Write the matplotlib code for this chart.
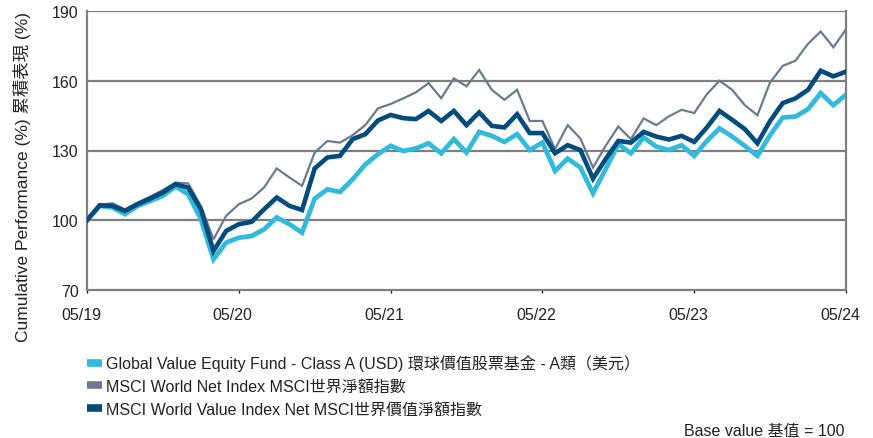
import matplotlib
matplotlib.use("Agg")
import matplotlib.pyplot as plt
import matplotlib.transforms as mtransforms
from matplotlib.lines import Line2D
import numpy as np

plt.rcParams['font.family'] = ['Liberation Sans', 'Noto Sans CJK TC', 'DejaVu Sans']

# monthly points, 05/19 to 05/24
fund = [100, 106.2, 105.5, 102.6, 106.2, 108.3, 110.5, 114.5, 111.2, 100.4,
        83.2, 90.4, 92.5, 93.2, 96.1, 101.2, 98.3, 94.7, 109.3, 113.3,
        112.2, 117.6, 124.0, 128.4, 132.0, 129.8, 130.9, 133.1, 128.8, 134.9,
        129.1, 138.0, 136.3, 133.7, 137.0, 130.2, 133.4, 121.2, 126.5, 122.7,
        111.6, 122.0, 132.7, 128.8, 135.6, 131.7, 130.2, 132.3, 127.7, 134.1,
        139.5, 136.0, 132.0, 127.7, 136.6, 144.2, 144.6, 147.8, 154.7, 149.5,
        154.0]
world = [100, 106.6, 107.3, 104.7, 107.6, 110.2, 113.0, 116.2, 115.8, 106.2,
         91.8, 101.9, 106.9, 109.3, 114.1, 122.3, 118.4, 114.8, 129.1, 134.1,
         133.4, 136.6, 140.9, 148.1, 150.0, 152.4, 155.0, 159.0, 152.5, 161.0,
         157.6, 164.6, 156.1, 151.8, 156.1, 142.7, 142.7, 130.6, 140.9, 135.2,
         122.7, 132.0, 140.3, 134.9, 143.8, 140.9, 144.7, 147.5, 146.1, 154.2,
         160.0, 156.1, 149.5, 145.2, 159.3, 166.4, 168.6, 175.9, 181.2, 174.4,
         182.1]
world_value = [100, 106.4, 106.2, 104.0, 106.9, 109.3, 111.9, 115.5, 114.0, 104.7,
               86.8, 95.4, 98.3, 99.3, 104.7, 109.8, 106.2, 104.4, 122.3, 127.0,
               127.7, 134.9, 137.0, 142.9, 145.3, 143.9, 143.5, 147.0, 142.7, 147.0,
               140.9, 146.4, 140.6, 139.9, 145.6, 137.5, 137.5, 128.8, 132.3, 130.2,
               117.9, 126.3, 134.1, 133.4, 138.0, 136.0, 134.7, 136.3, 133.7, 139.9,
               147.0, 143.2, 139.2, 133.1, 142.7, 150.4, 152.4, 156.1, 164.3, 161.9,
               163.9]
tick_labels = ["05/19", "05/20", "05/21", "05/22", "05/23", "05/24"]
y_ticks = [70, 100, 130, 160, 190]

names = ["Global Value Equity Fund - Class A (USD) 環球價值股票基金 - A類（美元）",
         "MSCI World Net Index MSCI世界淨額指數",
         "MSCI World Value Index Net MSCI世界價值淨額指數"]
colors = ["#31BADB", "#6B7B8F", "#004C7E"]

fs = 11.5
x = np.arange(len(fund))

fig = plt.figure(figsize=(8.73, 4.39), dpi=100)
ax = fig.add_axes([87 / 873, 1 - 291 / 439, 759 / 873, 279 / 439])

for y in y_ticks[1:]:
    ax.axhline(y, color="#7F7F7F", lw=1.6, zorder=1)

ax.plot(x, world, color=colors[1], lw=1.6, zorder=3, solid_joinstyle="miter")
ax.plot(x, world_value, color=colors[2], lw=3.3, zorder=4, solid_joinstyle="miter")
ax.plot(x, fund, color=colors[0], lw=3.4, zorder=2, solid_joinstyle="miter")

ax.set_xlim(0, 60)
ax.set_ylim(70, 190)
ax.set_yticks(y_ticks)
ax.set_xticks(np.arange(0, 61, 12))
ax.set_xticklabels(tick_labels)
ax.tick_params(axis="y", length=0, pad=6, labelsize=fs, colors="#222222")
ax.tick_params(axis="x", length=2, width=1, color="#222222", pad=10,
               labelsize=fs, labelcolor="#222222")
offset = mtransforms.ScaledTranslation(-6 / 100, 0, fig.dpi_scale_trans)
for lab in ax.get_xticklabels():
    lab.set_transform(lab.get_transform() + offset)

for side in ["left", "right", "bottom"]:
    ax.spines[side].set_color("#7F7F7F")
    ax.spines[side].set_linewidth(1.6)
ax.spines["top"].set_visible(False)

fig.text(22 / 873, 1 - 177 / 439, "Cumulative Performance (%) 累積表現 (%)",
         rotation=90, ha="center", va="center", fontsize=12.5, color="#222222")

handles = [Line2D([], [], color=c, lw=5.5, solid_capstyle="butt") for c in colors]
fig.legend(handles, names, loc="upper left", bbox_to_anchor=(76 / 873, 1 - 344 / 439),
           frameon=False, fontsize=fs, handlelength=0.9, handletextpad=0.25,
           labelspacing=0.48, labelcolor="#222222", borderpad=0.2)

fig.text(845 / 873, 1 - 432 / 439, "Base value 基值 = 100", ha="right", va="center",
         fontsize=fs, color="#222222")

fig.savefig("out.png", dpi=100)
